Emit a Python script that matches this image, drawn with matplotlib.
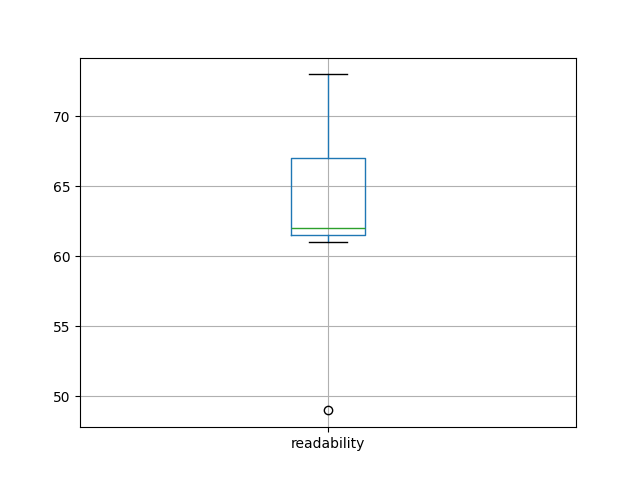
import matplotlib
matplotlib.use("Agg")
import matplotlib.pyplot as plt
import pandas as pd

# readability scores
readability = [49, 61, 62, 62, 65, 69, 73]

df = pd.DataFrame({"readability": readability})

fig, ax = plt.subplots(figsize=(6.4, 4.8), dpi=100)
df.boxplot(column=["readability"], ax=ax)

fig.savefig("out.png", dpi=100)
